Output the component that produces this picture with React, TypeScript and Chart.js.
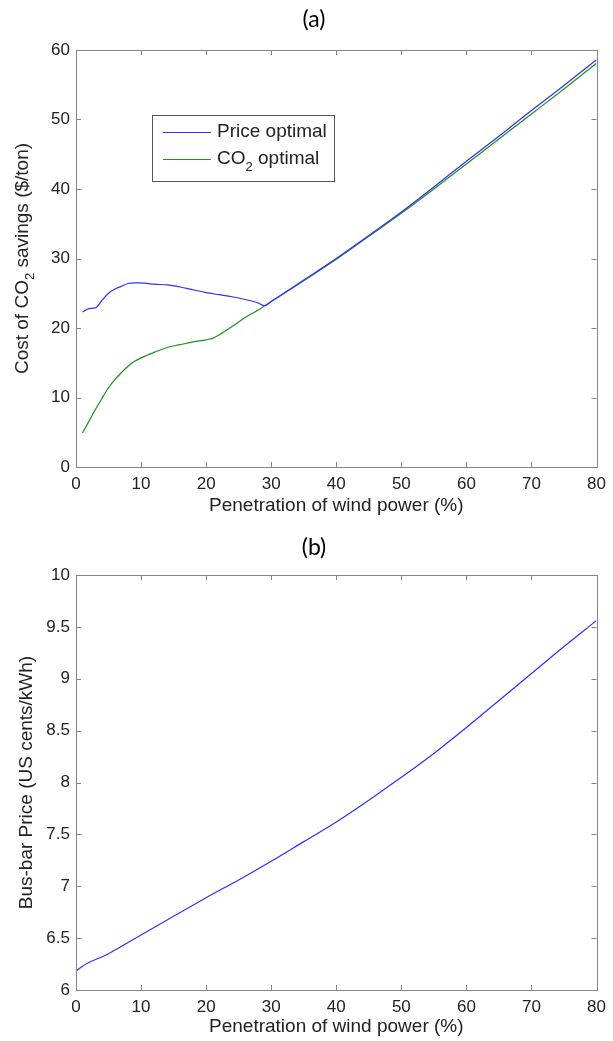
import React, { useEffect, useRef } from "react";
import { Chart, registerables } from "chart.js";

Chart.register(...registerables);

// ---------- data ----------
const xTicks = [0, 10, 20, 30, 40, 50, 60, 70, 80];
const yTicksA = [0, 10, 20, 30, 40, 50, 60];
const yTicksB = [6, 6.5, 7, 7.5, 8, 8.5, 9, 9.5, 10];

const penPriceA = [1, 2, 3, 4, 5, 6, 7, 8, 9, 10, 12, 14, 16, 18, 20, 22, 24, 26, 28, 29, 30, 35, 40, 45, 50, 55, 60, 65, 70, 75, 80];
const costPriceA = [22.3, 22.8, 22.9, 24.0, 25.0, 25.6, 26.0, 26.4, 26.5, 26.5, 26.3, 26.2, 25.9, 25.5, 25.1, 24.8, 24.5, 24.1, 23.6, 23.2, 23.8, 26.9, 30.0, 33.3, 36.7, 40.3, 44.0, 47.6, 51.3, 54.9, 58.6];

const penCo2A = [1, 2, 3, 4, 5, 6, 7, 8, 9, 10, 12, 14, 16, 18, 20, 21, 22, 24, 26, 28, 29, 30, 35, 40, 45, 50, 55, 60, 65, 70, 75, 80];
const costCo2A = [4.9, 6.6, 8.3, 9.9, 11.4, 12.6, 13.6, 14.5, 15.2, 15.7, 16.5, 17.2, 17.6, 18.0, 18.3, 18.5, 19.0, 20.2, 21.5, 22.6, 23.2, 23.8, 26.8, 29.9, 33.2, 36.5, 40.0, 43.6, 47.2, 50.8, 54.4, 58.1];

const penB = [0, 1, 5, 10, 15, 20, 25, 30, 35, 40, 45, 50, 55, 60, 65, 70, 75, 80];
const priceB = [6.18, 6.23, 6.35, 6.53, 6.71, 6.89, 7.06, 7.24, 7.43, 7.62, 7.83, 8.05, 8.28, 8.53, 8.79, 9.05, 9.31, 9.56];

const labelPrice = "Price optimal";
const labelCo2 = "CO₂ optimal";
const xTitle = "Penetration of wind power (%)";
const yTitleA = "Cost of CO₂ savings ($/ton)";
const yTitleB = "Bus-bar Price (US cents/kWh)";
const panelA = "(a)";
const panelB = "(b)";

// ---------- helpers ----------
const SANS = "'Liberation Sans', Arial, sans-serif";
const TXT = "#222222";
const AXIS = "#858585";

function pts(xs: number[], ys: number[]) {
  return xs.map((x, i) => ({ x, y: ys[i] }));
}

function subWidth(ctx: CanvasRenderingContext2D, text: string, font: string, subFont: string) {
  const parts = text.split("₂");
  let w = 0;
  parts.forEach((p, i) => {
    ctx.font = font;
    w += ctx.measureText(p).width;
    if (i < parts.length - 1) {
      ctx.font = subFont;
      w += ctx.measureText("2").width;
    }
  });
  return w;
}

function drawSub(ctx: CanvasRenderingContext2D, text: string, x: number, y: number, font: string, subFont: string, shift: number) {
  const parts = text.split("₂");
  let cx = x;
  parts.forEach((p, i) => {
    ctx.font = font;
    ctx.fillText(p, cx, y);
    cx += ctx.measureText(p).width;
    if (i < parts.length - 1) {
      ctx.font = subFont;
      ctx.fillText("2", cx, y + shift);
      cx += ctx.measureText("2").width;
    }
  });
}

function makePlugin(opts: {
  panel: string;
  panelX: number;
  panelY: number;
  yTitle: string;
  yTitleX: number;
  legend: boolean;
}) {
  return {
    id: "decor",
    afterDraw(chart: any) {
      const ctx: CanvasRenderingContext2D = chart.ctx;
      const ca = chart.chartArea;
      ctx.save();
      // frame box
      ctx.strokeStyle = AXIS;
      ctx.lineWidth = 1;
      ctx.strokeRect(Math.round(ca.left) + 0.5, Math.round(ca.top) + 0.5, Math.round(ca.right - ca.left), Math.round(ca.bottom - ca.top));
      // inward ticks
      const xs = chart.scales.x;
      const ys = chart.scales.y;
      const tl = 5;
      ctx.beginPath();
      xs.ticks.forEach((t: any) => {
        const px = Math.round(xs.getPixelForValue(t.value)) + 0.5;
        ctx.moveTo(px, ca.bottom);
        ctx.lineTo(px, ca.bottom - tl);
        ctx.moveTo(px, ca.top);
        ctx.lineTo(px, ca.top + tl);
      });
      ys.ticks.forEach((t: any) => {
        const py = Math.round(ys.getPixelForValue(t.value)) + 0.5;
        ctx.moveTo(ca.left, py);
        ctx.lineTo(ca.left + tl, py);
        ctx.moveTo(ca.right, py);
        ctx.lineTo(ca.right - tl, py);
      });
      ctx.stroke();

      // panel title
      ctx.fillStyle = "#000";
      ctx.font = "23px Lato, 'Open Sans', sans-serif";
      ctx.textAlign = "center";
      ctx.textBaseline = "middle";
      ctx.fillText(opts.panel, opts.panelX, opts.panelY);

      // y title (rotated, with subscript)
      const font = `19px ${SANS}`;
      const subFont = `13px ${SANS}`;
      ctx.fillStyle = TXT;
      ctx.textAlign = "left";
      ctx.textBaseline = "middle";
      ctx.save();
      ctx.translate(opts.yTitleX, (ca.top + ca.bottom) / 2);
      ctx.rotate(-Math.PI / 2);
      const w = subWidth(ctx, opts.yTitle, font, subFont);
      drawSub(ctx, opts.yTitle, -w / 2, 0, font, subFont, 7);
      ctx.restore();

      // legend
      if (opts.legend) {
        const bx = 152.5, by = 115.5, bw = 182, bh = 66;
        ctx.fillStyle = "#fff";
        ctx.fillRect(bx, by, bw, bh);
        ctx.strokeStyle = "#555";
        ctx.lineWidth = 1;
        ctx.strokeRect(bx, by, bw, bh);
        const rows = [132, 159];
        chart.data.datasets.forEach((ds: any, i: number) => {
          const y = rows[i];
          ctx.strokeStyle = ds.borderColor;
          ctx.lineWidth = 1.2;
          ctx.beginPath();
          ctx.moveTo(163, y + 0.5);
          ctx.lineTo(211, y + 0.5);
          ctx.stroke();
          ctx.fillStyle = TXT;
          ctx.textAlign = "left";
          ctx.textBaseline = "middle";
          drawSub(ctx, ds.label, 217, y, font, subFont, 8);
        });
      }
      ctx.restore();
    },
  };
}

function makeConfig(o: {
  datasets: any[];
  yMin: number;
  yMax: number;
  yTicks: number[];
  padTop: number;
  padRight: number;
  xAxisH: number;
  plugin: any;
}) {
  return {
    type: "line" as const,
    data: { datasets: o.datasets },
    options: {
      animation: false as const,
      responsive: true,
      maintainAspectRatio: false,
      layout: { padding: { top: o.padTop, right: o.padRight, bottom: 0, left: 0 } },
      plugins: { legend: { display: false }, tooltip: { enabled: false }, title: { display: false } },
      elements: { point: { radius: 0 } },
      scales: {
        x: {
          type: "linear" as const,
          min: 0,
          max: 80,
          grid: { display: false, drawTicks: false },
          border: { display: false },
          afterBuildTicks: (s: any) => {
            s.ticks = xTicks.map((v) => ({ value: v }));
          },
          afterFit: (s: any) => {
            s.height = o.xAxisH;
          },
          ticks: {
            padding: 7,
            color: TXT,
            font: { family: SANS, size: 17 },
            maxRotation: 0,
            autoSkip: false,
            callback: (v: any) => String(v),
          },
          title: {
            display: true,
            text: xTitle,
            color: TXT,
            font: { family: SANS, size: 19 },
            padding: { top: 0, bottom: 3 },
          },
        },
        y: {
          type: "linear" as const,
          min: o.yMin,
          max: o.yMax,
          grid: { display: false, drawTicks: false },
          border: { display: false },
          afterBuildTicks: (s: any) => {
            s.ticks = o.yTicks.map((v) => ({ value: v }));
          },
          afterFit: (s: any) => {
            s.width = 76;
          },
          ticks: {
            padding: 6,
            color: TXT,
            font: { family: SANS, size: 17 },
            autoSkip: false,
            callback: (v: any) => String(v),
          },
        },
      },
    },
    plugins: [o.plugin],
  };
}

export default function App() {
  const refA = useRef<HTMLCanvasElement>(null);
  const refB = useRef<HTMLCanvasElement>(null);

  useEffect(() => {
    const cfgA = makeConfig({
      datasets: [
        {
          label: labelPrice,
          data: pts(penPriceA, costPriceA),
          borderColor: "#2f2fff",
          borderWidth: 1.2,
          fill: false,
          cubicInterpolationMode: "monotone",
        },
        {
          label: labelCo2,
          data: pts(penCo2A, costCo2A),
          borderColor: "#1f8f1f",
          borderWidth: 1.2,
          fill: false,
          cubicInterpolationMode: "monotone",
        },
      ],
      yMin: 0,
      yMax: 60,
      yTicks: yTicksA,
      padTop: 50,
      padRight: 16,
      xAxisH: 53,
      plugin: makePlugin({ panel: panelA, panelX: 314, panelY: 20, yTitle: yTitleA, yTitleX: 23, legend: true }),
    });
    const cfgB = makeConfig({
      datasets: [
        {
          label: "Bus-bar price",
          data: pts(penB, priceB),
          borderColor: "#2f2fff",
          borderWidth: 1.2,
          fill: false,
          cubicInterpolationMode: "monotone",
        },
      ],
      yMin: 6,
      yMax: 10,
      yTicks: yTicksB,
      padTop: 55,
      padRight: 15,
      xAxisH: 51,
      plugin: makePlugin({ panel: panelB, panelX: 314, panelY: 28, yTitle: yTitleB, yTitleX: 27, legend: false }),
    });
    const a = new Chart(refA.current as HTMLCanvasElement, cfgA as any);
    const b = new Chart(refB.current as HTMLCanvasElement, cfgB as any);
    return () => {
      a.destroy();
      b.destroy();
    };
  }, []);

  return (
    <div style={{ position: "absolute", left: 0, top: 0, width: 613, height: 1041, background: "#fff" }}>
      <div style={{ position: "absolute", left: 0, top: 0, width: 613, height: 520 }}>
        <canvas ref={refA} />
      </div>
      <div style={{ position: "absolute", left: 0, top: 520, width: 613, height: 521 }}>
        <canvas ref={refB} />
      </div>
    </div>
  );
}
